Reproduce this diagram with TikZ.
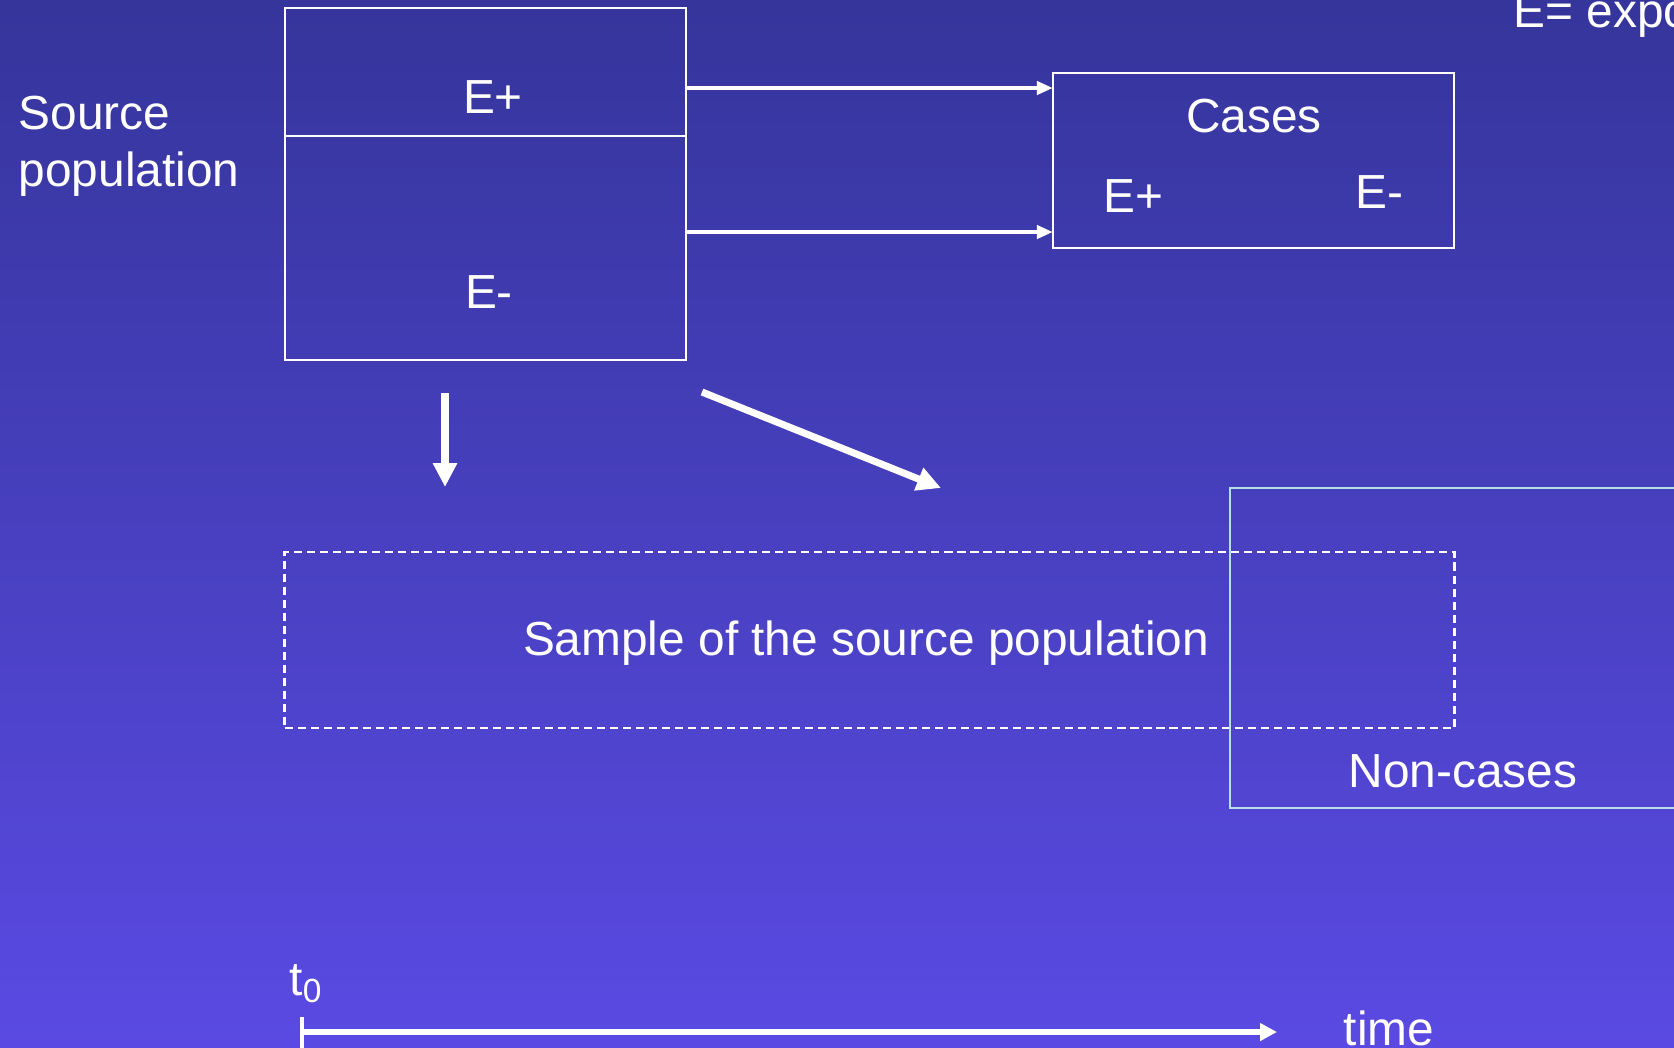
\documentclass[tikz,border=0pt]{standalone}
\usepackage{fontspec}
\setmainfont{Liberation Sans}
\usetikzlibrary{arrows.meta,positioning}
\definecolor{bgtop}{HTML}{35359B}
\definecolor{bgbot}{HTML}{5A4AE3}
\definecolor{pale}{HTML}{B4E1E6}

\begin{document}
\begin{tikzpicture}[x=0.01cm, y=-0.01cm, font=\fontsize{13.6}{16.2}\selectfont,
    box/.style={draw=white, line width=0.7pt, inner sep=0pt, outer sep=0pt},
    sampbox/.style={box, dash pattern=on 2.3pt off 1.4pt},
    lbl/.style={text=white, anchor=base, inner sep=0pt},
    thinarrow/.style={white, line width=1.4pt, -{Triangle[length=1.6mm, width=1.3mm]}},
    thickarrow/.style={white, line width=2pt, -{Triangle[length=2.4mm, width=2.3mm]}}]
  % fond en dégradé, cadre de la page
  \shade[top color=bgtop, bottom color=bgbot] (0,0) rectangle (1674,1047);
  \useasboundingbox (0,0) rectangle (1674,1047);
  \clip (0,0) rectangle (1674,1047);

  % population source et cas
  \node[box, minimum width=4.01cm, minimum height=1.28cm] (srcEp) at (485.5,72) {};
  \node[box, minimum width=4.01cm, minimum height=2.24cm, below=0pt of srcEp] (srcEm) {};
  \node[box, minimum width=4.01cm, minimum height=1.75cm] (cases) at (1253.5,160.5) {};
  \node[lbl] (tEp) at (493,113) {E+};
  \node[lbl] (tEm) at (489,308) {E-};
  \node[lbl] (tCases) at (1254,132) {Cases};
  \node[lbl] (tCEp) at (1133,212) {E+};
  \node[lbl] (tCEm) at (1379,208) {E-};
  \node[lbl, anchor=base west, align=left] (tSrc) at (18,186) {Source\\population};
  \node[lbl, anchor=base west] (tExpo) at (1513,27) {E= exposure};

  \draw[thinarrow] (srcEp.east |- 0,88) -- (cases.west |- 0,88);
  \draw[thinarrow] (srcEm.east |- 0,232) -- (cases.west |- 0,232);

  % échantillon et non-cas
  \coordinate (dnA) at (445,393);  \coordinate (dnB) at (445,487);
  \coordinate (dgA) at (702,392);  \coordinate (dgB) at (941,488);
  \draw[thickarrow] (dnA) -- (dnB);
  \draw[thickarrow] (dgA) -- (dgB);
  \node[sampbox, minimum width=11.69cm, minimum height=1.76cm] (sample) at (869.5,640) {};
  \node[lbl] (tSample) at (866,655) {Sample of the source population};
  \draw[pale, line width=0.7pt] (1750,488) -| (1230,808) coordinate (ncSW) -- (1750,808);
  \node[lbl] (tNon) at (1463,787) {Non-cases};

  % axe du temps
  \coordinate (t0) at (302,1032);  \coordinate (tEnd) at (1277,1032);
  \draw[white, line width=1.4pt] (302,1017) -- (302,1060);
  \draw[white, line width=1.6pt, -{Triangle[length=1.7mm, width=1.7mm]}] (t0) -- (tEnd);
  \node[lbl, anchor=base west] (tZero) at (289,995) {t\textsubscript{0}};
  \node[lbl, anchor=base west] (tTime) at (1343,1045) {time};
\end{tikzpicture}
\end{document}
